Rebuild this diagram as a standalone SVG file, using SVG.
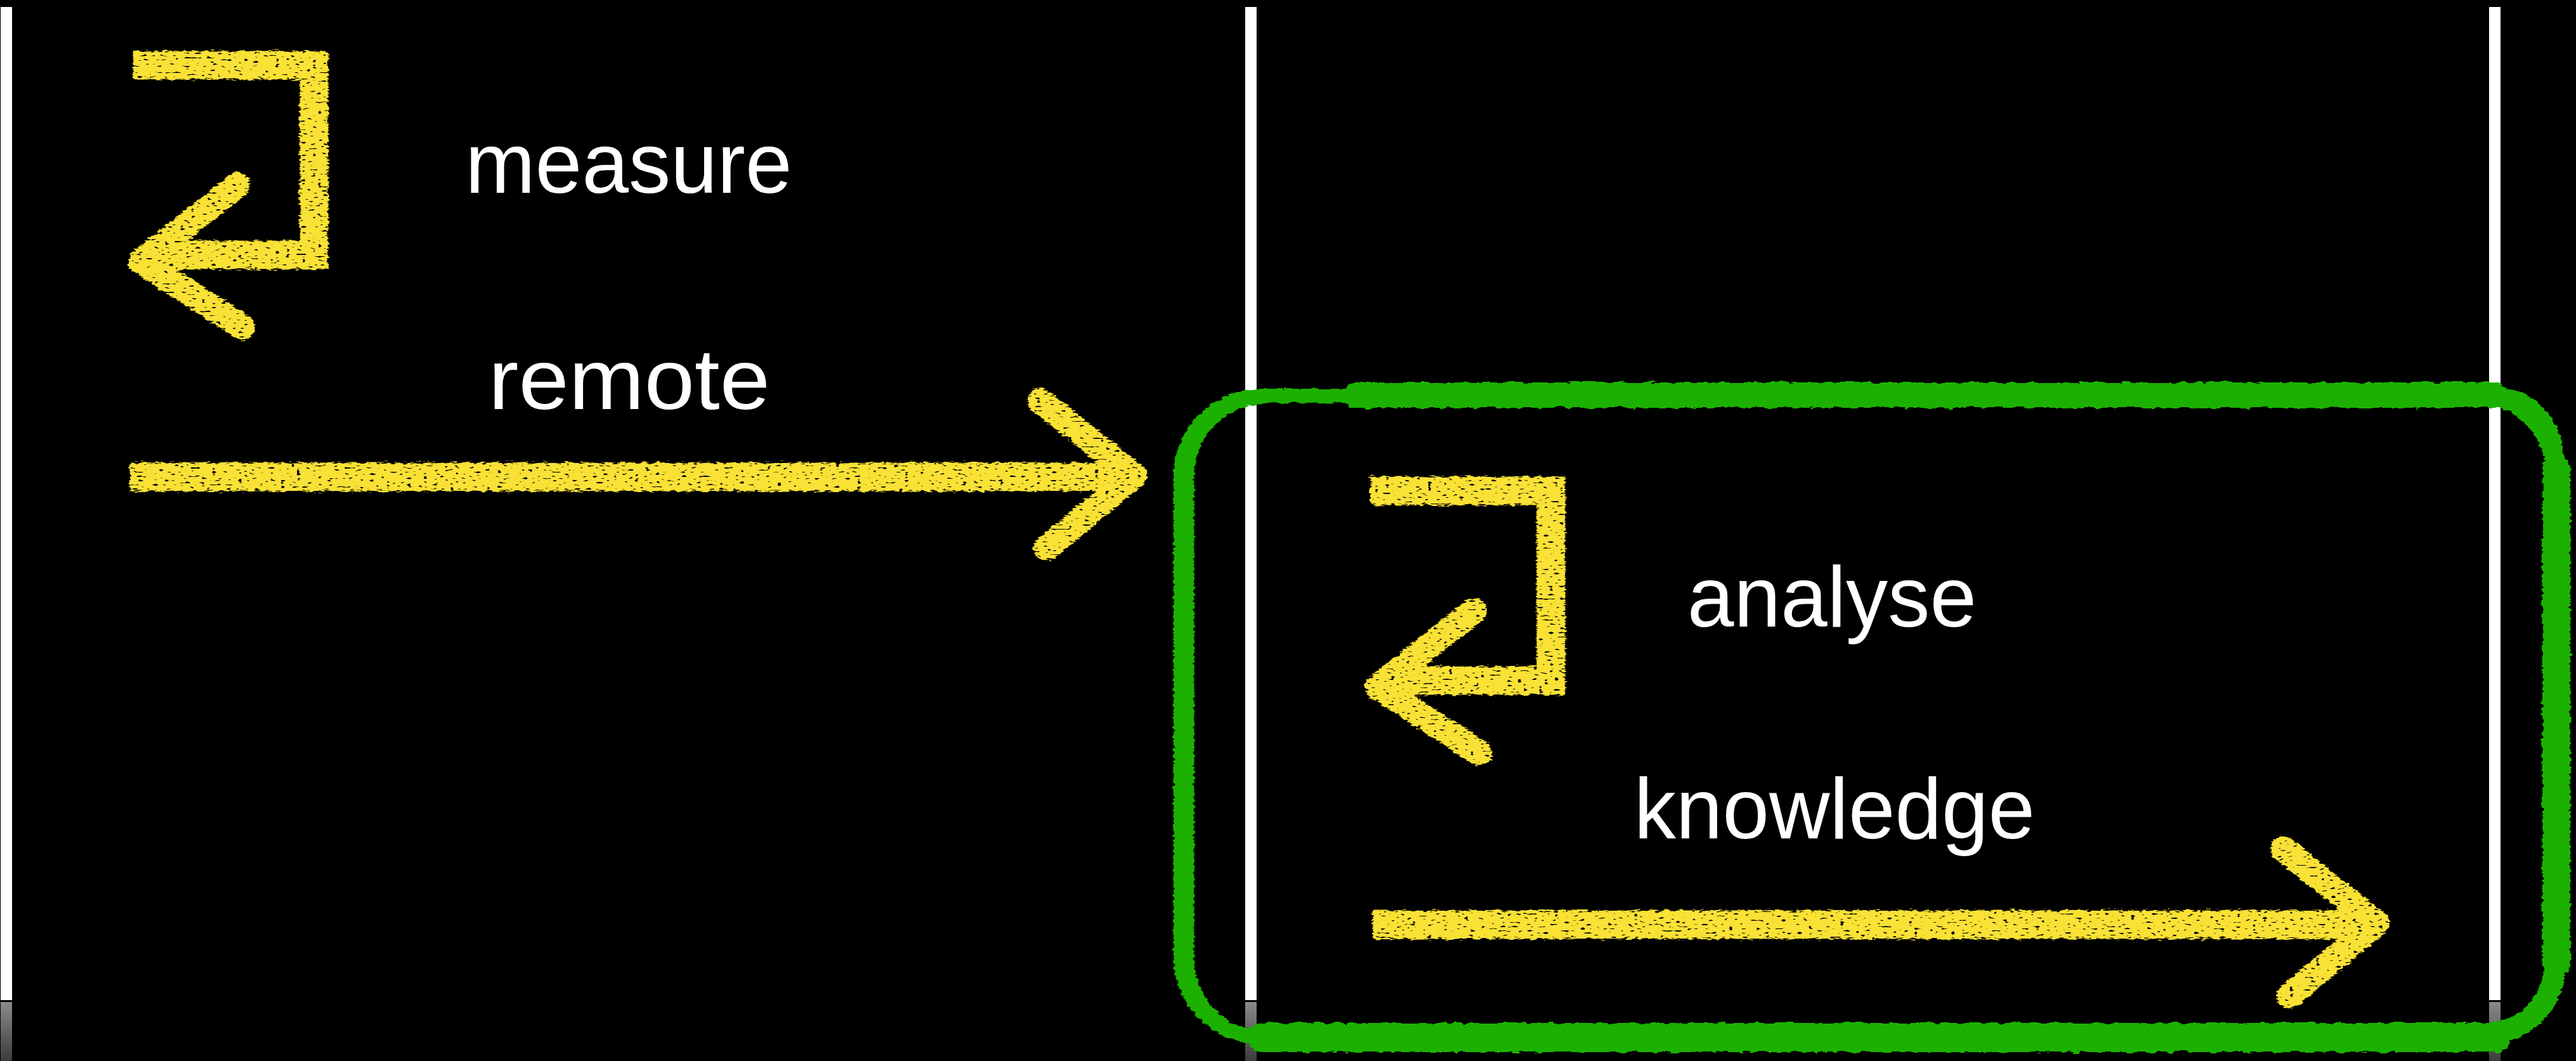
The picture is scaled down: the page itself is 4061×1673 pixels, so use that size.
<svg xmlns="http://www.w3.org/2000/svg" width="4061" height="1673" viewBox="0 0 4061 1673">
  <style>
    .lbl { font-family: "Comic Sans MS", "Liberation Sans", "DejaVu Sans", sans-serif; font-size: 135px; fill: #ffffff; text-anchor: middle; }
    .chalkY { fill: none; stroke: #F9E134; stroke-linecap: butt; stroke-linejoin: miter; }
    .head { fill: none; stroke: #F9E134; stroke-linecap: round; stroke-linejoin: round; stroke-width: 40; }
    .grn { fill: none; stroke: #1DB100; stroke-linecap: round; }
    .lane { fill: #ffffff; }
    .laneFoot { fill: url(#foot); }
  </style>
  <defs>
    <linearGradient id="foot" x1="0" y1="0" x2="0" y2="1">
      <stop offset="0" stop-color="#8a8a8a"/>
      <stop offset="1" stop-color="#3c3c3c"/>
    </linearGradient>
    <filter id="chalk" filterUnits="userSpaceOnUse" x="0" y="0" width="4061" height="1673">
      <feTurbulence type="fractalNoise" baseFrequency="0.09 0.35" numOctaves="2" seed="4" result="n"/>
      <feDisplacementMap in="SourceGraphic" in2="n" scale="10" xChannelSelector="R" yChannelSelector="G" result="d"/>
      <feTurbulence type="fractalNoise" baseFrequency="0.12 0.3" numOctaves="1" seed="11" result="t2"/>
      <feColorMatrix in="t2" type="matrix" values="0 0 0 0 0  0 0 0 0 0  0 0 0 0 0  14 0 0 0 -9" result="holes"/>
      <feComposite in="d" in2="holes" operator="out"/>
    </filter>
    <filter id="rough" filterUnits="userSpaceOnUse" x="0" y="0" width="4061" height="1673">
      <feTurbulence type="fractalNoise" baseFrequency="0.06 0.2" numOctaves="2" seed="8" result="n"/>
      <feDisplacementMap in="SourceGraphic" in2="n" scale="9" xChannelSelector="R" yChannelSelector="G"/>
    </filter>
  </defs>

  <rect x="0" y="0" width="4061" height="1673" fill="#000000"/>

  <g id="lanes">
    <rect class="lane" x="1" y="11" width="18" height="1566"/>
    <rect class="lane" x="1963" y="11" width="18" height="1566"/>
    <rect class="lane" x="3924" y="11" width="18" height="1566"/>
    <rect class="laneFoot" x="1" y="1580" width="18" height="93"/>
    <rect class="laneFoot" x="1963" y="1580" width="18" height="93"/>
    <rect class="laneFoot" x="3924" y="1580" width="18" height="93"/>
  </g>

  <g id="analysis-box" filter="url(#rough)">
    <rect class="grn" x="1866" y="624" width="2164" height="1013" rx="128" ry="128" stroke-width="18"/>
    <rect class="grn" x="1854" y="617" width="2182" height="1026" rx="134" ry="134" stroke-width="8"/>
    <rect class="grn" x="1878" y="631" width="2142" height="1000" rx="120" ry="120" stroke-width="9"/>
    <path class="grn" d="M2140,623 H3930" stroke-width="40"/>
    <path class="grn" d="M1990,1636 H3935" stroke-width="46"/>
    <path class="grn" d="M4030,740 V1520" stroke-width="44"/>
    <path class="grn" d="M1866,800 V1500" stroke-width="28"/>
    <path class="grn" d="M3900,1632 Q4028,1630 4030,1500" stroke-width="34"/>
    <path class="grn" d="M3930,625 Q4028,630 4030,750" stroke-width="30"/>
  </g>

  <g id="node-measure">
    <text class="lbl" x="991" y="304" textLength="515" lengthAdjust="spacingAndGlyphs">measure</text>
  </g>
  <g id="node-remote">
    <text class="lbl" x="992" y="645" textLength="444" lengthAdjust="spacingAndGlyphs">remote</text>
  </g>
  <g id="node-analyse">
    <text class="lbl" x="2888" y="988" textLength="456" lengthAdjust="spacingAndGlyphs">analyse</text>
  </g>
  <g id="node-knowledge">
    <text class="lbl" x="2892" y="1322" textLength="632" lengthAdjust="spacingAndGlyphs">knowledge</text>
  </g>

  <g id="connectors" filter="url(#chalk)">
    <g id="loop-measure">
      <path class="chalkY" d="M210,103 H495 V402 H250" stroke-width="45"/>
      <path class="head" d="M374,292 L222,412 L382,516"/>
    </g>
    <g id="arrow-remote">
      <path class="chalkY" d="M205,752 H1785" stroke-width="45"/>
      <path class="head" d="M1640,632 L1788,750 L1650,864"/>
    </g>
    <g id="loop-analyse" transform="translate(1950,671)">
      <path class="chalkY" d="M210,103 H495 V402 H250" stroke-width="45"/>
      <path class="head" d="M374,292 L222,412 L382,516"/>
    </g>
    <g id="arrow-knowledge" transform="translate(1959,706)">
      <path class="chalkY" d="M205,752 H1785" stroke-width="45"/>
      <path class="head" d="M1640,632 L1788,750 L1650,864"/>
    </g>
  </g>
</svg>
